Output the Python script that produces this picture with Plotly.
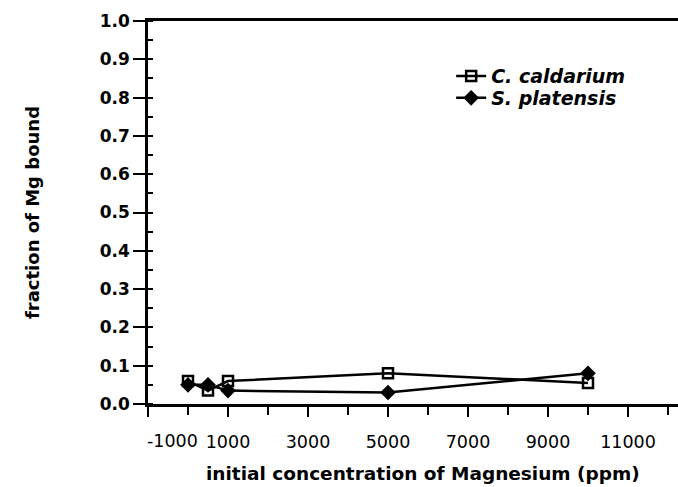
import plotly.graph_objects as go

# Initial Mg concentration (ppm)
conc = [0, 500, 1000, 5000, 10000]
# Fraction of Mg bound for each organism
c_caldarium = [0.06, 0.035, 0.06, 0.08, 0.055]
s_platensis = [0.05, 0.05, 0.035, 0.03, 0.08]

x_ticks = [-1000, 1000, 3000, 5000, 7000, 9000, 11000]
x_minor = [0, 2000, 4000, 6000, 8000, 10000, 12000]
y_ticks = [0.0, 0.1, 0.2, 0.3, 0.4, 0.5, 0.6, 0.7, 0.8, 0.9, 1.0]

x_title = "initial concentration of Magnesium (ppm)"
y_title = "fraction of Mg bound"

FONT = "DejaVu Sans, Arial, Helvetica, sans-serif"

fig = go.Figure()
fig.add_trace(go.Scatter(
    x=conc, y=c_caldarium, name="C. caldarium", mode="lines+markers",
    line=dict(color="black", width=2.5),
    marker=dict(symbol="square-open", size=10, color="black",
                line=dict(width=2.5, color="black")),
    legend="legend",
))
fig.add_trace(go.Scatter(
    x=conc, y=s_platensis, name="S. platensis", mode="lines+markers",
    line=dict(color="black", width=2.5),
    marker=dict(symbol="diamond", size=12, color="black"),
    legend="legend2",
))

# x-axis title, set slightly right of the axis centre
fig.add_annotation(
    text=x_title, xref="paper", yref="paper", x=0.519, y=0,
    xanchor="center", yanchor="middle", yshift=-69, showarrow=False,
    font=dict(family=FONT, size=18.5, weight="bold", color="black"),
)
# first x tick label sits to the right of its tick
fig.add_annotation(
    text=str(x_ticks[0]), xref="x", yref="paper", x=x_ticks[0], y=0,
    xanchor="left", yanchor="middle", xshift=-3, yshift=-37, showarrow=False,
    font=dict(family=FONT, size=17.5, color="black"),
)

legend_style = dict(
    x=0.572, xanchor="left", yanchor="middle",
    bgcolor="rgba(0,0,0,0)",
    font=dict(family=FONT, size=19, weight="bold", style="italic"),
    itemwidth=30,
)

fig.update_layout(
    width=678, height=487,
    margin=dict(l=148, r=0, t=21, b=83),
    paper_bgcolor="white", plot_bgcolor="white",
    font=dict(family=FONT, color="black", size=16),
    showlegend=True,
    legend=dict(y=0.856, **legend_style),
    legend2=dict(y=0.799, **legend_style),
    xaxis=dict(
        range=[-1000, 12250],
        tickmode="array", tickvals=x_ticks,
        ticktext=[""] + [str(v) for v in x_ticks[1:]],
        ticks="outside", ticklen=10, tickwidth=2, tickcolor="black",
        ticklabelstandoff=10,
        minor=dict(tickmode="array", tickvals=x_minor,
                   ticks="outside", ticklen=8, tickwidth=2, tickcolor="black"),
        showline=True, linewidth=2.5, linecolor="black", mirror=True,
        showgrid=False, zeroline=False,
        tickfont=dict(family=FONT, size=17.5),
    ),
    yaxis=dict(
        range=[0, 1.0],
        tickmode="array", tickvals=y_ticks,
        ticktext=[f"{v:.1f}" for v in y_ticks],
        ticks="outside", ticklen=12, tickwidth=2, tickcolor="black",
        minor=dict(dtick=0.05, ticks="inside", ticklen=5, tickwidth=2, tickcolor="black"),
        showline=True, linewidth=2.5, linecolor="black",
        showgrid=False, zeroline=False,
        tickfont=dict(family=FONT, size=17, weight="bold"),
        title=dict(text=y_title,
                   font=dict(family=FONT, size=18, weight="bold"), standoff=56),
    ),
)

fig.write_html("out.html")
